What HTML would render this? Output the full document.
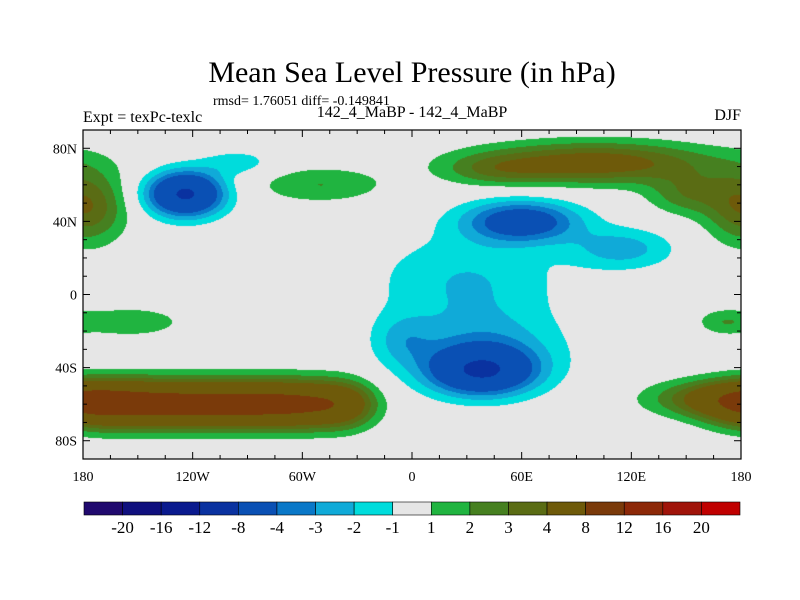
<!DOCTYPE html>
<html><head><meta charset="utf-8">
<style>
body{margin:0;background:#fff;}
#wrap{position:relative;width:800px;height:600px;overflow:hidden;font-family:"Liberation Serif",serif;}
.t{position:absolute;color:#000;white-space:nowrap;}
</style></head>
<body>
<div id="wrap">
<div class="t" style="left:0;width:824px;text-align:center;top:56px;font-size:30px;">Mean Sea Level Pressure (in hPa)</div>
<div class="t" style="left:213px;top:94px;font-size:14px;">rmsd= 1.76051 diff= -0.149841</div>
<div class="t" style="left:83px;top:109px;font-size:16px;">Expt = texPc-texlc</div>
<div class="t" style="left:0;width:824px;text-align:center;top:104px;font-size:16px;">142_4_MaBP - 142_4_MaBP</div>
<div class="t" style="right:59px;top:107px;font-size:16px;">DJF</div>
<canvas id="map" width="658" height="329" style="position:absolute;left:83px;top:130px;"></canvas>
<svg id="ov" width="800" height="600" style="position:absolute;left:0;top:0;"></svg>
</div>
<script>
const levels=[-20,-16,-12,-8,-4,-3,-2,-1,1,2,3,4,8,12,16,20];
const colors=["#20096e","#10107e","#0a1a8e","#0a32a0","#0a50b4","#0a78c8","#10aad8","#00dcdc","#e6e6e6","#20b440","#468020","#5a6c14","#6e5a0a","#7a3a0a","#8c2808","#a0140a","#c00000"];
const blobLon=[-124,-95,60,115,38,40,30,-5,-175,-145,-115,-85,-55,-35,165,-178,100,45,-50,-155,170,150];
const blobLat=[55,72,40,25,-42,-30,8,-25,-60,-60,-60,-60,-60,-60,-57,48,72,68,60,-15,-15,55];
const blobAmp=[-8.5,-1.6,-5.5,-2.5,-7,-2.5,-2,-1.8,6.3,6.5,6.5,6.5,6.5,3,4,4,5,1.8,2,1.8,1.5,2.5];
const blobSx=[14.5,14,22,20,20,30,35,12,18,18,18,18,18,12,25,15,45,20,25,22,10,15];
const blobSy=[8.5,5,8,8,9,15,18,10,9,9,9,9,9,9,7,14,8,6,7,6,5,8];
const lonTicks=[-180,-120,-60,0,60,120,180];
const lonLabels=["180","120W","60W","0","60E","120E","180"];
const latTicks=[80,40,0,-40,-80];
const latLabels=["80N","40N","0","40S","80S"];
const X0=83,X1=741,Y0=130,Y1=459;
const xs=lon=>X0+(lon+180)/360*(X1-X0);
const ys=lat=>Y0+(90-lat)/180*(Y1-Y0);
function field(lon,lat){let v=0;for(let i=0;i<blobLon.length;i++){let d=lon-blobLon[i];d=((d+540)%360)-180;const e=lat-blobLat[i];v+=blobAmp[i]*Math.exp(-(d*d)/(2*blobSx[i]*blobSx[i])-(e*e)/(2*blobSy[i]*blobSy[i]));}return v;}
function colorOf(v){let k=0;while(k<levels.length&&v>=levels[k])k++;return colors[k];}
function hex(c){return [parseInt(c.substr(1,2),16),parseInt(c.substr(3,2),16),parseInt(c.substr(5,2),16)];}
const cv=document.getElementById('map'),ctx=cv.getContext('2d');
const W=cv.width,H=cv.height,img=ctx.createImageData(W,H);
for(let y=0;y<H;y++){for(let x=0;x<W;x++){const lon=-180+(x+0.5)/W*360,lat=90-(y+0.5)/H*180;const c=hex(colorOf(field(lon,lat)));const p=(y*W+x)*4;img.data[p]=c[0];img.data[p+1]=c[1];img.data[p+2]=c[2];img.data[p+3]=255;}}
ctx.putImageData(img,0,0);
const svg=document.getElementById('ov'),NS="http://www.w3.org/2000/svg";
function mk(t,a,txt){const e=document.createElementNS(NS,t);for(const k in a)e.setAttribute(k,a[k]);if(txt!==undefined)e.textContent=txt;svg.appendChild(e);return e;}
let fr=mk('rect',{x:X0,y:Y0,width:X1-X0,height:Y1-Y0,fill:'none',stroke:'#000','stroke-width':1.2});


for(let lon=-180;lon<=180;lon+=15){const big=lon%60===0;const x=xs(lon);mk('line',{x1:x,x2:x,y1:Y1,y2:Y1-(big?7:4),stroke:'#000'});mk('line',{x1:x,x2:x,y1:Y0,y2:Y0+(big?7:4),stroke:'#000'});}
for(let lat=-90;lat<=90;lat+=10){const big=lat%40===0;const y=ys(lat);mk('line',{x1:X0,x2:X0+(big?7:4),y1:y,y2:y,stroke:'#000'});mk('line',{x1:X1,x2:X1-(big?7:4),y1:y,y2:y,stroke:'#000'});}
lonTicks.forEach((l,i)=>{const t=mk('text',{x:xs(l),y:Y1+22,'text-anchor':'middle','font-size':14,'font-family':'Liberation Serif, serif'},lonLabels[i]);

});
latTicks.forEach((l,i)=>{const t=mk('text',{x:X0-6,y:ys(l)+5,'text-anchor':'end','font-size':14,'font-family':'Liberation Serif, serif'},latLabels[i]);

});
const CB0=84,CB1=740,CBy=502,CBh=13,bw=(CB1-CB0)/colors.length;
colors.forEach((c,i)=>{const r=mk('rect',{x:CB0+i*bw,y:CBy,width:bw,height:CBh,fill:c,stroke:'#000','stroke-width':0.6});

});
levels.forEach((l,i)=>{const t=mk('text',{x:CB0+(i+1)*bw,y:CBy+CBh+18,'text-anchor':'middle','font-size':17,'font-family':'Liberation Serif, serif'},String(l));

});
</script>
</body></html>
